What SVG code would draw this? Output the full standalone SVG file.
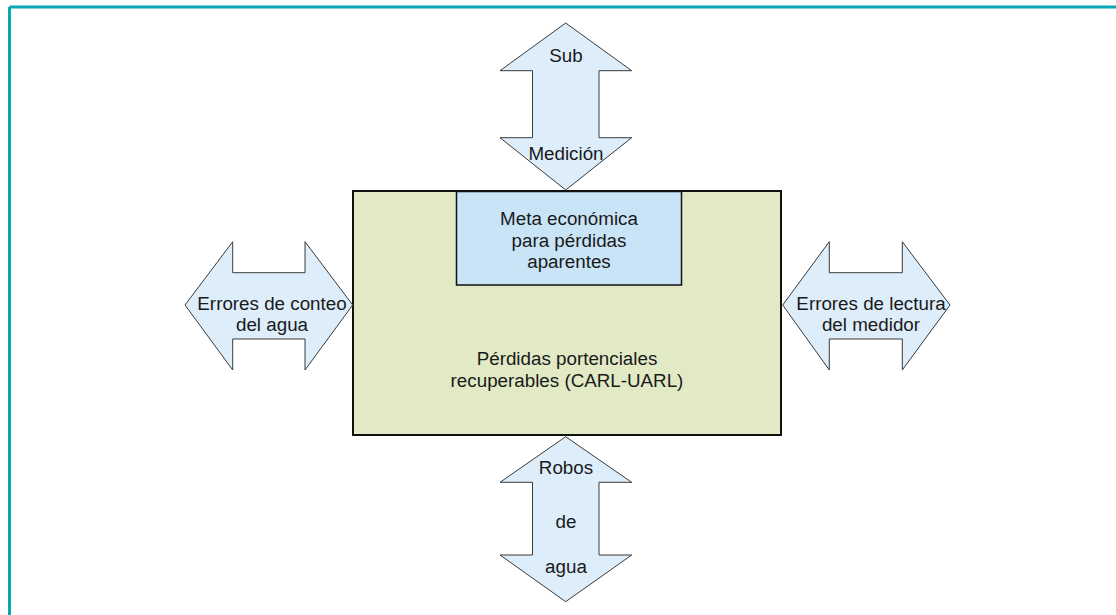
<svg xmlns="http://www.w3.org/2000/svg" width="1116" height="615" viewBox="0 0 1116 615">
<style>
.arrow{fill:#DDEDFA;stroke:#3a3a3a;stroke-width:1;stroke-linejoin:miter}
.t{font-family:"Liberation Sans",Arial,sans-serif;font-size:18.8px;fill:#1a1a1a;text-anchor:middle}
</style>
<rect width="1116" height="615" fill="#ffffff"/>
<g id="frame" fill="none" stroke="#0AA6B8" stroke-width="3">
<line x1="9.5" y1="7" x2="1116" y2="7"/>
<line x1="9.5" y1="7" x2="9.5" y2="615"/>
</g>
<g id="main">
<rect x="353" y="191" width="428" height="244" fill="#E1EAC4" stroke="#111" stroke-width="2"/>
<text class="t" x="567" y="365">Pérdidas portenciales</text>
<text class="t" x="567" y="387">recuperables (CARL-UARL)</text>
</g>
<g id="meta">
<rect x="456.5" y="191.5" width="225" height="93.5" fill="#C9E4F7" stroke="#111" stroke-width="1.5"/>
<text class="t" x="569" y="225">Meta económica</text>
<text class="t" x="569" y="246.5">para pérdidas</text>
<text class="t" x="569" y="268">aparentes</text>
</g>
<g id="connectors">
<g id="arrow-top">
<polygon class="arrow" points="565.7,23 631.7,70.7 599,70.7 599,137.7 631.7,137.7 565.7,190 500,137.7 532.5,137.7 532.5,70.7 500,70.7"/>
<text class="t" x="566" y="62">Sub</text>
<text class="t" x="566" y="160">Medición</text>
</g>
<g id="arrow-left">
<polygon class="arrow" points="185,305 232.7,241.7 232.7,272.7 305,272.7 305,241.7 352.7,305 305,370 305,339 232.7,339 232.7,370"/>
<text class="t" x="272" y="309.5">Errores de conteo</text>
<text class="t" x="272" y="331">del agua</text>
</g>
<g id="arrow-right">
<polygon class="arrow" points="782.7,305 829.3,241.7 829.3,272.7 902.3,272.7 902.3,241.7 950,305 902.3,370 902.3,339 829.3,339 829.3,370"/>
<text class="t" x="871" y="309.5">Errores de lectura</text>
<text class="t" x="871" y="331">del medidor</text>
</g>
<g id="arrow-bottom">
<polygon class="arrow" points="565.7,436.7 631.7,482.3 599,482.3 599,555 631.7,555 565.7,601.7 500,555 532.5,555 532.5,482.3 500,482.3"/>
<text class="t" x="566" y="474">Robos</text>
<text class="t" x="566" y="528">de</text>
<text class="t" x="566" y="573">agua</text>
</g>
</g>
</svg>
